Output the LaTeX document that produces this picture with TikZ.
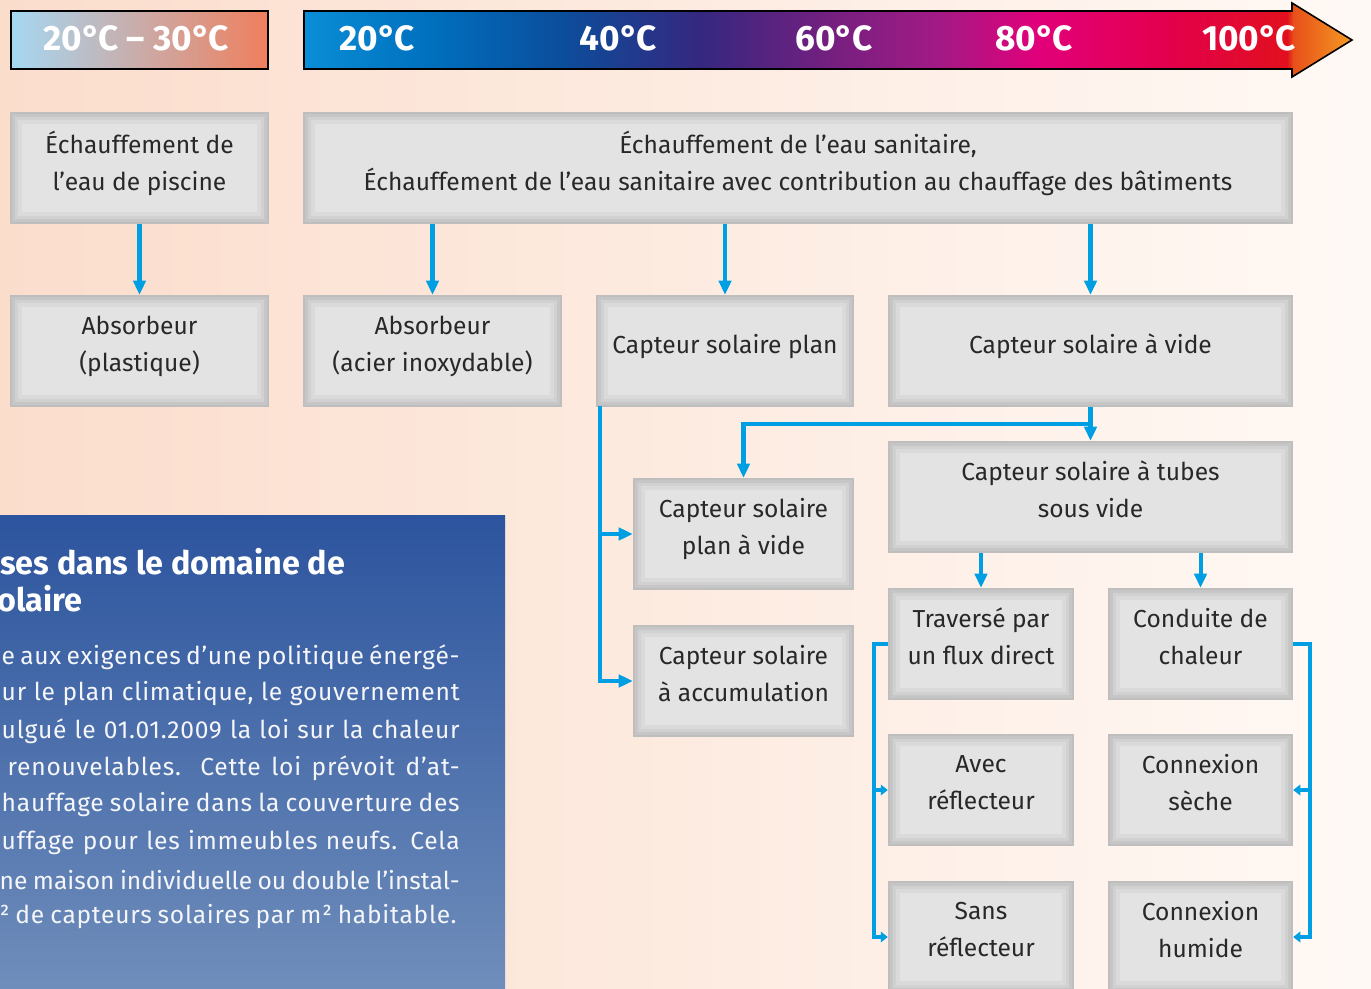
\documentclass[tikz,border=0pt]{standalone}
\usepackage{fontspec}
\setmainfont{Fira Sans}
\newfontfamily\infofont[LetterSpace=3]{Fira Sans}
\usetikzlibrary{arrows.meta,positioning}

\definecolor{bgleft}{RGB}{251,221,204}
\definecolor{bgright}{RGB}{255,249,245}
\definecolor{boxfill}{RGB}{227,227,227}
\definecolor{boxedge}{RGB}{190,190,190}
\definecolor{boxtext}{RGB}{40,40,40}
\definecolor{flowblue}{RGB}{0,159,227}
\definecolor{infotop}{RGB}{44,84,158}
\definecolor{infobot}{RGB}{112,142,187}
% temperature scale colours
\definecolor{tA}{RGB}{10,142,214}
\definecolor{tB}{RGB}{0,112,190}
\definecolor{tC}{RGB}{11,78,156}
\definecolor{tD}{RGB}{53,40,127}
\definecolor{tE}{RGB}{112,32,127}
\definecolor{tF}{RGB}{163,26,133}
\definecolor{tG}{RGB}{226,0,122}
\definecolor{tH}{RGB}{227,0,76}
\definecolor{tI}{RGB}{225,16,30}
\definecolor{tJ}{RGB}{232,80,26}
\definecolor{tK}{RGB}{244,154,34}

\pgfdeclarehorizontalshading{tempscale}{100bp}{color(0bp)=(tA); color(25bp)=(tA);
  color(31bp)=(tB); color(37.2bp)=(tC); color(43.9bp)=(tD); color(49.6bp)=(tE);
  color(55.3bp)=(tF); color(60.1bp)=(tG); color(66.3bp)=(tH); color(71.9bp)=(tI);
  color(72.2bp)=(tJ); color(75bp)=(tK); color(100bp)=(tK)}

\tikzset{
  box/.style={draw=boxedge, line width=1.4pt, fill=boxfill, minimum height=2.2cm,
    align=center, text=boxtext, font=\fontsize{14}{21}\selectfont, text depth=0.3cm,
    path picture={
      \draw[black, opacity=0.035, line width=12pt] (path picture bounding box.south west) rectangle (path picture bounding box.north east);
      \draw[black, opacity=0.04, line width=8pt] (path picture bounding box.south west) rectangle (path picture bounding box.north east);
      \draw[black, opacity=0.05, line width=4pt] (path picture bounding box.south west) rectangle (path picture bounding box.north east);}},
  flow/.style={draw=flowblue, line width=2.3pt, -{Triangle[length=8pt,width=7pt]}},
  rail/.style={draw=flowblue, line width=2.3pt, -{Triangle[length=4pt,width=6pt]}},
  templabel/.style={text=white, font=\bfseries\fontsize{20}{20}\selectfont},
  infotext/.style={text=white!95!infotop, font=\infofont\fontsize{14}{14}\selectfont, inner sep=0pt},
  infotitle/.style={text=white, font=\bfseries\fontsize{18.4}{18.4}\selectfont, inner sep=0pt},
}
\newcommand{\infoline}[2][9.16cm]{\makebox[#1][s]{#2}}
\newcommand{\dgC}{°\kern-0.06em C}

\begin{document}
\begin{tikzpicture}[x=0.02cm,y=-0.02cm]
\clip (0,0) rectangle (1371,989);
\fill[left color=bgleft, right color=bgright] (0,0) rectangle (1371,989);

% temperature scale
\draw[black, line width=0.9pt, left color={rgb,255:red,165;green,216;blue,242},
  middle color={rgb,255:red,200;green,191;blue,186}, right color={rgb,255:red,239;green,127;blue,94}]
  (11,11) rectangle (268,69);
\node[templabel] (t2030) at (136,38) {20\dgC{} – 30\dgC};
\draw[black, line width=0.9pt, shading=tempscale]
  (304,11) -- (1292,11) -- (1292,3) -- (1352,40) -- (1292,77) -- (1292,69) -- (304,69) -- cycle;
\node[templabel] (t20) at (377,38) {20\dgC};
\node[templabel] (t40) at (618,38) {40\dgC};
\node[templabel] (t60) at (834,38) {60\dgC};
\node[templabel] (t80) at (1034,38) {80\dgC};
\node[templabel] (t100) at (1249,38) {100\dgC};

% boxes
\node[box, minimum width=5.14cm] (piscine) at (139.5,168) {Échauffement de\\l’eau de piscine};
\node[box, minimum width=19.76cm] (sanitaire) at (798,168) {Échauffement de l’eau sanitaire,\\Échauffement de l’eau sanitaire avec contribution au chauffage des bâtiments};
\node[box, minimum width=5.14cm] (plastique) at (139.5,351) {Absorbeur\\(plastique)};
\node[box, minimum width=5.14cm] (acier) at (432.5,351) {Absorbeur\\(acier inoxydable)};
\node[box, minimum width=5.12cm] (plan) at (725,351) {Capteur solaire plan};
\node[box, minimum width=8.06cm] (vide) at (1090.5,351) {Capteur solaire à vide};
\node[box, minimum width=4.38cm] (planvide) at (743.5,534) {Capteur solaire\\plan à vide};
\node[box, minimum width=4.38cm] (accum) at (743.5,681) {Capteur solaire\\à accumulation};
\node[box, minimum width=8.06cm] (tubes) at (1090.5,497) {Capteur solaire à tubes\\sous vide};
\node[box, minimum width=3.68cm] (traverse) at (981,644) {Traversé par\\un flux direct};
\node[box, minimum width=3.66cm] (conduite) at (1200.5,644) {Conduite de\\chaleur};
\node[box, minimum width=3.68cm] (avec) at (981,790) {Avec\\réflecteur};
\node[box, minimum width=3.66cm] (seche) at (1200.5,790) {Connexion\\sèche};
\node[box, minimum width=3.68cm] (sans) at (981,937) {Sans\\réflecteur};
\node[box, minimum width=3.66cm] (humide) at (1200.5,937) {Connexion\\humide};

% connectors
\draw[flow] (piscine) -- (plastique);
\draw[flow] (acier.north |- sanitaire.south) -- (acier.north);
\draw[flow] (plan.north |- sanitaire.south) -- (plan.north);
\draw[flow] (vide.north |- sanitaire.south) -- (vide.north);
\coordinate (jv) at (1090.5,424);
\draw[flow] (vide.south) -- (tubes.north);
\draw[flow] (jv) -| (planvide.north);
\coordinate (jp) at (600,406);
\draw[flow] (jp) |- (planvide.west);
\draw[flow] (jp) |- (accum.west);
\draw[flow] (traverse.north |- tubes.south) -- (traverse.north);
\draw[flow] (conduite.north |- tubes.south) -- (conduite.north);
\draw[rail] (traverse.west) -- ++(-14,0) |- (avec.west);
\draw[rail] (traverse.west) -- ++(-14,0) |- (sans.west);
\draw[rail] (conduite.east) -- ++(17,0) |- (seche.east);
\draw[rail] (conduite.east) -- ++(17,0) |- (humide.east);

% info panel
\begin{scope}
\clip (0,515) rectangle (505,989);
\fill[top color=infotop, bottom color=infobot] (-2,515) rectangle (505,992);
\node[infotitle, anchor=west] (titre1) at (0,562) {ses dans le domaine de};
\node[infotitle, anchor=west] (titre2) at (-3,599) {olaire};
\node[infotext, anchor=east] (l1) at (460,657) {\infoline{e aux exigences d’une politique énergé-}};
\node[infotext, anchor=east] (l2) at (460,694) {\infoline{ur le plan climatique, le gouvernement}};
\node[infotext, anchor=east] (l3) at (460,731) {\infoline{ulgué le 01.01.2009 la loi sur la chaleur}};
\node[infotext, anchor=east] (l4) at (460,768) {\infoline[9.04cm]{renouvelables. Cette loi prévoit d’at-}};
\node[infotext, anchor=east] (l5) at (460,805) {\infoline{hauffage solaire dans la couverture des}};
\node[infotext, anchor=east] (l6) at (460,843) {\infoline{uffage pour les immeubles neufs. Cela}};
\node[infotext, font=\fontsize{14}{14}\selectfont, anchor=east] (l7) at (460,880) {\infoline[9.2cm]{ne maison individuelle ou double l’instal-}};
\node[infotext, anchor=east] (l8) at (457,917) {\infoline[9.14cm]{² de capteurs solaires par m² habitable.}};
\end{scope}
\end{tikzpicture}
\end{document}
